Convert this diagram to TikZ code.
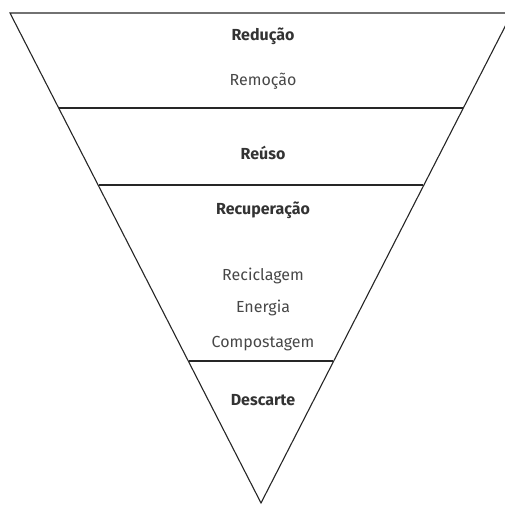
\documentclass[tikz,border=0pt]{standalone}
\usepackage{fontspec}
\setmainfont{Fira Sans}
\begin{document}
\begin{tikzpicture}[x=1pt,y=-1pt,
  edge/.style={line width=1.1pt,draw=black!85},
  head/.style={font=\bfseries\fontsize{16}{18}\selectfont,text=black!80},
  item/.style={font=\fontsize{16}{18}\selectfont,text=black!72}]
\useasboundingbox (0,0) rectangle (505,506);
% funnel outline, clipped at the right edge
\begin{scope}
\clip (0,0) rectangle (505,506);
\coordinate (tl) at (10,13);
\coordinate (tr) at (512,13);
\coordinate (ap) at (261,503);
\draw[edge,line join=miter] (tl) -- (tr) -- (ap) -- cycle;
% level dividers
\coordinate (l1) at (58.7,108); \coordinate (r1) at (463.3,108);
\coordinate (l2) at (98.7,185); \coordinate (r2) at (423.3,185);
\coordinate (l3) at (188.7,361); \coordinate (r3) at (333.3,361);
\draw[edge] (l1) -- (r1);
\draw[edge] (l2) -- (r2);
\draw[edge] (l3) -- (r3);
\end{scope}
\node[head] (reducao) at (263,36) {Redução};
\node[item] (remocao) at (263,81) {Remoção};
\node[head] (reuso) at (263,153) {Reúso};
\node[head] (recup) at (263,210) {Recuperação};
\node[item] (recicl) at (263,276) {Reciclagem};
\node[item] (energia) at (263,308) {Energia};
\node[item] (compost) at (263,344) {Compostagem};
\node[head] (descarte) at (263,400) {Descarte};
\end{tikzpicture}
\end{document}
